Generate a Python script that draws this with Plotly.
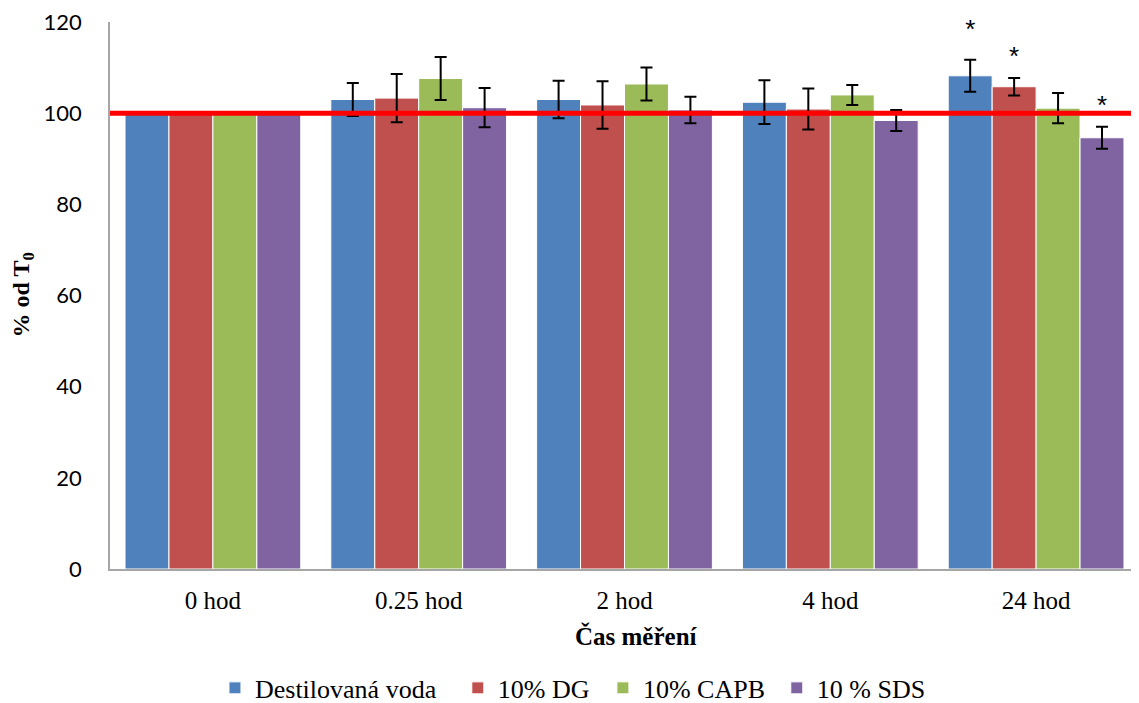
import plotly.graph_objects as go

categories = ["0 hod", "0.25 hod", "2 hod", "4 hod", "24 hod"]
series_names = ["Destilovaná voda", "10% DG", "10% CAPB", "10 % SDS"]
colors = ["#4F81BD", "#C0504D", "#9BBB59", "#8064A2"]

voda = [100, 103.0, 103.0, 102.4, 108.2]
dg = [100, 103.3, 101.8, 100.9, 105.8]
capb = [100, 107.6, 106.4, 104.0, 101.1]
sds = [100, 101.2, 100.7, 98.4, 94.6]

voda_err = [0, 3.6, 4.1, 4.8, 3.5]
dg_err = [0, 5.3, 5.2, 4.5, 1.9]
capb_err = [0, 4.7, 3.6, 2.2, 3.3]
sds_err = [0, 4.3, 2.9, 2.3, 2.4]

# significance asterisks (24 hod): y position per series (None = no mark)
star_y = [117.9, 112.0, None, 101.2]
star_cat = 4

reference_level = 100

values = [voda, dg, capb, sds]
errors = [voda_err, dg_err, capb_err, sds_err]

bargap = 0.146
n = len(series_names)
slot = (1 - bargap) / n

# legend entry left positions (paper fraction), one legend per series
legend_x = [0.102, 0.338, 0.479, 0.648]
legend_ids = ["legend", "legend2", "legend3", "legend4"]

fig = go.Figure()
xs = list(range(len(categories)))
for j in range(n):
    fig.add_trace(go.Bar(
        x=xs, y=values[j], name=series_names[j], legend=legend_ids[j],
        marker=dict(color=colors[j], line=dict(color="white", width=1)),
        error_y=dict(type="data", array=errors[j], visible=True,
                     color="black", thickness=2, width=6),
    ))

star_x = []
star_vals = []
for j in range(n):
    if star_y[j] is not None:
        star_x.append(star_cat + (j - (n - 1) / 2) * slot)
        star_vals.append(star_y[j])
fig.add_trace(go.Scatter(
    x=star_x, y=star_vals, mode="text", text=["*"] * len(star_x),
    textfont=dict(family="Liberation Sans", size=26, color="black"),
    cliponaxis=False, showlegend=False, hoverinfo="skip",
))

fig.add_shape(type="line", xref="paper", yref="y", x0=0, x1=1,
              y0=reference_level, y1=reference_level,
              line=dict(color="#FF0000", width=5), layer="above")

fig.add_annotation(text="<b>Čas měření</b>", xref="paper", yref="paper",
                   x=0.512, y=0, yshift=-67, xanchor="center", yanchor="middle",
                   showarrow=False,
                   font=dict(family="Liberation Serif", size=25, color="black"))
fig.add_annotation(text="<b>% od T<sub>0</sub></b>", xref="paper", yref="paper",
                   x=0, xshift=-88, y=0.5, xanchor="center", yanchor="middle",
                   textangle=-90, showarrow=False,
                   font=dict(family="Liberation Serif", size=24, color="black"))

legend_style = dict(orientation="h", y=-0.2175, yanchor="middle", xanchor="left",
                    font=dict(family="Liberation Serif", size=26, color="black"),
                    itemwidth=30, bgcolor="rgba(0,0,0,0)")

fig.update_layout(
    width=1131, height=695,
    margin=dict(l=102, r=0, t=14, b=134, autoexpand=False),
    paper_bgcolor="white", plot_bgcolor="white",
    barmode="group", bargap=bargap, bargroupgap=0,
    showlegend=True,
    legend=dict(x=legend_x[0], **legend_style),
    legend2=dict(x=legend_x[1], **legend_style),
    legend3=dict(x=legend_x[2], **legend_style),
    legend4=dict(x=legend_x[3], **legend_style),
    xaxis=dict(
        range=[-0.5, len(categories) - 0.5], automargin=False,
        tickmode="array", tickvals=xs, ticktext=categories,
        showline=True, linecolor="#A6A6A6", linewidth=1.5,
        showgrid=False, zeroline=False, ticks="",
        tickfont=dict(family="Liberation Serif", size=25, color="black"),
        ticklabelstandoff=8,
    ),
    yaxis=dict(
        range=[0, 120], tickmode="linear", tick0=0, dtick=20, automargin=False,
        showline=True, linecolor="#A6A6A6", linewidth=1.5,
        showgrid=False, zeroline=False, ticks="",
        tickfont=dict(family="Lato", size=22, color="black"),
        ticklabelstandoff=22, ticklabeloverflow="allow",
    ),
)

fig.write_html("out.html")
